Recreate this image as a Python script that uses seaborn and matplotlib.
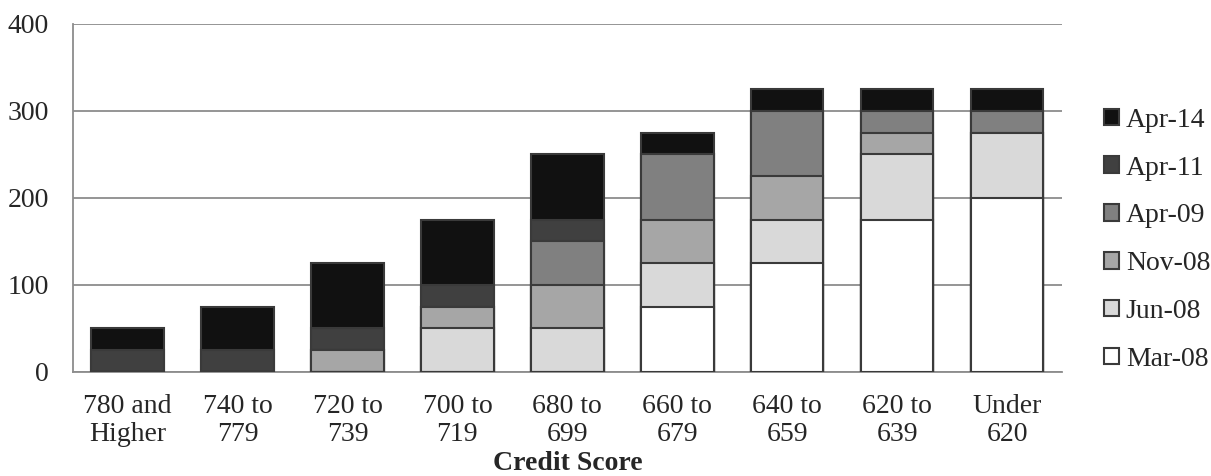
import numpy as np
import pandas as pd
import matplotlib
matplotlib.use("Agg")
import matplotlib.pyplot as plt
import seaborn as sns
from matplotlib.patches import Patch

# data (bottom -> top)
categories = ["780 and\nHigher", "740 to\n779", "720 to\n739", "700 to\n719", "680 to\n699",
              "660 to\n679", "640 to\n659", "620 to\n639", "Under\n620"]
series = ["Mar-08", "Jun-08", "Nov-08", "Apr-09", "Apr-11", "Apr-14"]
mar08 = [0, 0, 0, 0, 0, 75, 125, 175, 200]
jun08 = [0, 0, 0, 50, 50, 50, 50, 75, 75]
nov08 = [0, 0, 25, 25, 50, 50, 50, 25, 0]
apr09 = [0, 0, 0, 0, 50, 75, 75, 25, 25]
apr11 = [25, 25, 25, 25, 25, 0, 0, 0, 0]
apr14 = [25, 50, 75, 75, 75, 25, 25, 25, 25]
colors = ["#ffffff", "#d9d9d9", "#a6a6a6", "#808080", "#404040", "#111111"]

sns.set_style("white")
plt.rcParams['font.family'] = ['Liberation Serif', 'DejaVu Serif']

df = pd.DataFrame({"cat": categories, "Mar-08": mar08, "Jun-08": jun08, "Nov-08": nov08,
                   "Apr-09": apr09, "Apr-11": apr11, "Apr-14": apr14})
cum = df[series].cumsum(axis=1)

fig, ax = plt.subplots(figsize=(12.11, 4.76), dpi=100)
fig.subplots_adjust(left=0.060, right=0.877, top=0.9496, bottom=0.2185)

# draw cumulative heights from the top layer down so lower layers sit on top
for s, c in reversed(list(zip(series, colors))):
    sns.barplot(x=df["cat"], y=cum[s], color=c, width=0.66, edgecolor="#3a3a3a",
                linewidth=1.5, saturation=1, ax=ax, zorder=3)

ax.set_ylim(0, 400)
ax.set_xlim(-0.5, len(categories) - 0.5)
ax.set_yticks([0, 100, 200, 300, 400])
ax.yaxis.grid(True, color="#8c8c8c", linewidth=1.3)
ax.set_axisbelow(True)
for sp in ["top", "right"]:
    ax.spines[sp].set_visible(False)
for sp in ["left", "bottom"]:
    ax.spines[sp].set_color("#8c8c8c")
    ax.spines[sp].set_linewidth(1.3)

ax.set_xticks(np.arange(len(categories)))
ax.set_xticklabels(categories, fontsize=20, linespacing=1.15)
ax.set_xticks(np.arange(len(categories) + 1) - 0.5, minor=True)
ax.tick_params(axis="x", which="major", length=0, pad=16)
ax.tick_params(axis="x", which="minor", length=7, width=1.3, color="#8c8c8c", direction="out")
ax.tick_params(axis="y", length=7, width=1.3, color="#8c8c8c", direction="out", labelsize=20, pad=10)
ax.set_ylabel("")
ax.set_xlabel("Credit Score", fontsize=20, fontweight="bold", labelpad=3)

handles = [Patch(facecolor=c, edgecolor="#3a3a3a", linewidth=1.5, label=s)
           for s, c in reversed(list(zip(series, colors)))]
ax.legend(handles=handles, loc="center left", bbox_to_anchor=(1.028, 0.38), frameon=False,
          fontsize=20, handlelength=0.55, handleheight=0.55, handletextpad=0.25, labelspacing=0.82,
          borderpad=0)

fig.savefig("out.png", dpi=100)
